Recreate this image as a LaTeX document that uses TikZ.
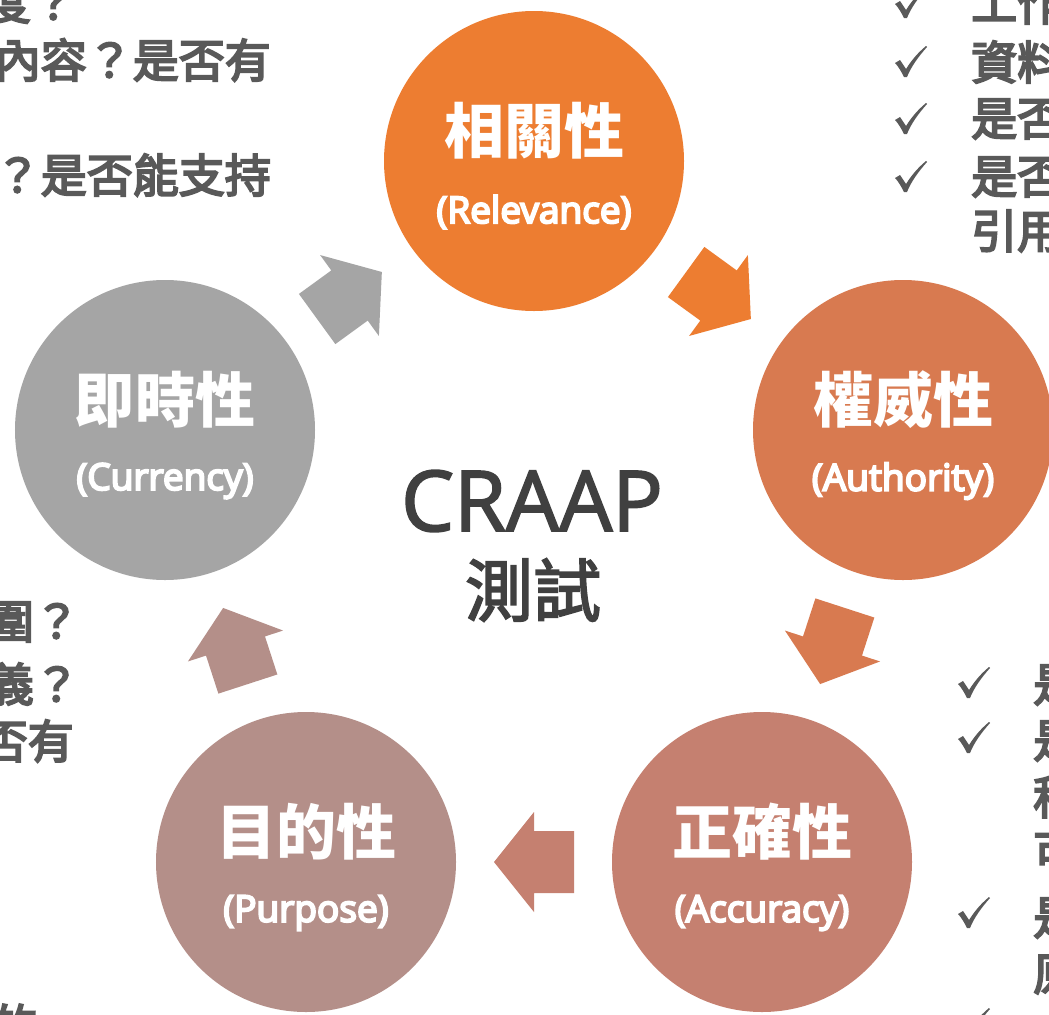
\documentclass[tikz,border=0pt]{standalone}
\usepackage{fontspec}
\setmainfont{Noto Sans CJK TC}
\newfontfamily\cjk{Noto Sans CJK TC}
\newfontfamily\lat{Open Sans}
\usetikzlibrary{calc}
\definecolor{cRel}{HTML}{ED7D31}
\definecolor{cAut}{HTML}{D87A50}
\definecolor{cAcc}{HTML}{C58070}
\definecolor{cPur}{HTML}{B48F89}
\definecolor{cCur}{HTML}{A5A5A5}
\definecolor{txt}{HTML}{595959}
\definecolor{ctr}{HTML}{404040}
% thicken glyphs: fill + stroke render mode
\newcommand\heavy[3]{\special{pdf:literal direct 2 Tr #1 w #2 RG}#3\special{pdf:literal direct 0 Tr}}
\newcommand\sidet[1]{\heavy{2.0}{0.349 0.349 0.349}{#1}}
\newcommand\subt[1]{\heavy{2.0}{1 1 1}{#1}}
\tikzset{
  stage/.style={circle, fill=#1, minimum size=300bp, inner sep=0pt, draw=none},
  ttl/.style={text=white, font=\cjk\bfseries\fontsize{60bp}{60bp}\selectfont, inner sep=0pt},
  sub/.style={text=white, font=\lat\fontsize{37bp}{37bp}\selectfont, inner sep=0pt},
  side/.style={text=txt, font=\cjk\fontsize{46bp}{57bp}\selectfont, inner sep=0pt},
  blk/.style={fill=#1, draw=none},
}
\newcommand\blockarrow[4]{%
  \fill[blk=#4, shift={($(#1)!0.5!(#2)$)}, rotate=#3]
    (-40,-31) -- (0,-31) -- (0,-50) -- (40,0) -- (0,50) -- (0,31) -- (-40,31) -- cycle;}
\newcommand\checkmark[1]{%
  \fill[txt, shift={(#1)}]
    (-16,-1) .. controls (-13,1) .. (-11,2) -- (-5,-7)
    .. controls (2,4) and (8,10) .. (15,16) -- (16,15)
    .. controls (7,5) and (0,-5) .. (-4,-15) -- (-7,-15)
    .. controls (-10,-9) and (-13,-4) .. (-16,-1) -- cycle;}
\begin{document}
\begin{tikzpicture}[x=1bp, y=1bp]
\useasboundingbox (0,0) rectangle (1049,-1015);
\clip (0,0) rectangle (1049,-1015);
\fill[white] (0,0) rectangle (1049,-1015);

% stages
\node[stage=cRel] (rel) at (534,-161) {};
\node[stage=cAut] (aut) at (903,-430) {};
\node[stage=cAcc] (acc) at (762,-862) {};
\node[stage=cPur] (pur) at (306,-862) {};
\node[stage=cCur] (cur) at (165,-430) {};

\node[ttl] (relT) at ($(rel)+(0,30)$) {相關性};
\node[sub] (relS) at ($(rel)+(0,-51)$) {\subt{(Relevance)}};
\node[ttl] (autT) at ($(aut)+(0,30)$) {權威性};
\node[sub] (autS) at ($(aut)+(0,-51)$) {\subt{(Authority)}};
\node[ttl] (accT) at ($(acc)+(0,30)$) {正確性};
\node[sub] (accS) at ($(acc)+(0,-51)$) {\subt{(Accuracy)}};
\node[ttl] (purT) at ($(pur)+(0,30)$) {目的性};
\node[sub] (purS) at ($(pur)+(0,-51)$) {\subt{(Purpose)}};
\node[ttl] (curT) at ($(cur)+(0,30)$) {即時性};
\node[sub] (curS) at ($(cur)+(0,-51)$) {\subt{(Currency)}};

% block arrows
\blockarrow{cur}{rel}{36}{cCur}
\blockarrow{rel}{aut}{-36}{cRel}
\blockarrow{aut}{acc}{-108}{cAut}
\blockarrow{acc}{pur}{180}{cAcc}
\blockarrow{pur}{cur}{108}{cPur}

% centre
\node[text=ctr, font=\lat\fontsize{84bp}{84bp}\selectfont, inner sep=0pt] (craap) at (532,-501) {\heavy{1.8}{0.251 0.251 0.251}{CRAAP}};
\node[text=ctr, font=\cjk\fontsize{68bp}{68bp}\selectfont, inner sep=0pt] (test) at (533,-590) {\heavy{1.8}{0.251 0.251 0.251}{測試}};

% top-left text
\node[side, anchor=east] (tl1) at (77,-2) {\sidet{度？}};
\node[side, anchor=east] (tl2) at (271,-60) {\sidet{內容？是否有}};
\node[side, anchor=east] (tl4) at (271,-175) {\sidet{？是否能支持}};

% top-right list
\checkmark{911,-3}
\checkmark{911,-62}
\checkmark{911,-119}
\checkmark{911,-177}
\node[side, anchor=west] (tr1) at (971,-3) {\sidet{工作}};
\node[side, anchor=west] (tr2) at (971,-62) {\sidet{資料}};
\node[side, anchor=west] (tr3) at (971,-119) {\sidet{是否}};
\node[side, anchor=west] (tr4) at (971,-177) {\sidet{是否}};
\node[side, anchor=west] (tr5) at (971,-231) {\sidet{引用}};

% bottom-left text
\node[side, anchor=east] (bl1) at (80,-622) {\sidet{圍？}};
\node[side, anchor=east] (bl2) at (80,-684) {\sidet{義？}};
\node[side, anchor=east] (bl3) at (74,-741) {\sidet{否有}};
\node[side] (bl4) at (15,-1025) {\sidet{的}};

% bottom-right list
\checkmark{974,-683}
\checkmark{974,-738}
\checkmark{974,-913}
\checkmark{974,-1024}
\node[side, anchor=west] (br1) at (1033,-685) {\sidet{是}};
\node[side, anchor=west] (br2) at (1033,-741) {\sidet{是}};
\node[side, anchor=west] (br3) at (1033,-797) {\sidet{程}};
\node[side, anchor=west] (br4) at (1033,-853) {\sidet{可}};
\node[side, anchor=west] (br5) at (1033,-918) {\sidet{是}};
\node[side, anchor=west] (br6) at (1033,-975) {\sidet{原}};
\end{tikzpicture}
\end{document}
